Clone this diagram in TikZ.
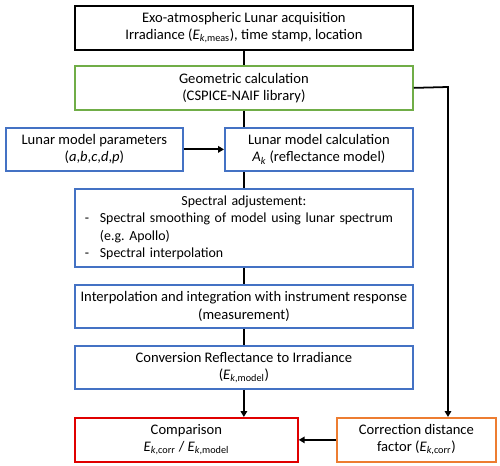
\documentclass[tikz,border=0pt]{standalone}
\usepackage{fontspec}
\setmainfont{Carlito}
\usepackage{xcolor}
\usetikzlibrary{arrows.meta, positioning, calc}

\definecolor{boxgreen}{HTML}{70AD47}
\definecolor{boxblue}{HTML}{4472C4}
\definecolor{boxred}{HTML}{E00000}
\definecolor{boxorange}{HTML}{ED7D31}

\newcommand{\Ek}[1]{\textit{E}\textsubscript{\textit{k},#1}}

\tikzset{
    box/.style={draw, line width=1.5pt, anchor=north west, inner sep=0pt, align=center,
        font=\fontsize{12.4}{14.6}\selectfont},
    link/.style={line width=1.5pt},
    arrow/.style={link, -{Triangle[length=5pt, width=5.5pt]}}
}

\begin{document}
\begin{tikzpicture}[x=0.85pt, y=-0.85pt]
    \useasboundingbox (0,0) rectangle (500,466);

    % Messung und Geometrie
    \node[box, minimum width=338*0.85pt, minimum height=44*0.85pt] (meas) at (74,5)
        {Exo-atmospheric Lunar acquisition\\Irradiance (\Ek{meas}), time stamp, location};
    \node[box, draw=boxgreen, minimum width=338*0.85pt, minimum height=44*0.85pt] (geom) at (74,65)
        {Geometric calculation\\(CSPICE-NAIF library)};

    % Mondmodell
    \node[box, draw=boxblue, minimum width=177*0.85pt, minimum height=43*0.85pt] (params) at (5,127)
        {Lunar model parameters\\(\textit{a},\textit{b},\textit{c},\textit{d},\textit{p})};
    \node[box, draw=boxblue, minimum width=188*0.85pt, minimum height=43*0.85pt] (calc) at (224,127)
        {Lunar model calculation\\\textit{A}\textsubscript{\textit{k}} (reflectance model)};

    % Spektrale Anpassung
    \node[box, draw=boxblue, minimum width=338*0.85pt, minimum height=78*0.85pt,
          text width=318*0.85pt, align=left, font=\fontsize{11.8}{14.6}\selectfont] (spec) at (74,188)
        {\parbox{\linewidth}{\centering Spectral adjustement:}\\
         \mbox{\makebox[12.75pt][l]{-}Spectral smoothing of model using lunar spectrum}\\
         \mbox{\hspace*{12.75pt}(e.g.\ Apollo)}\\
         \mbox{\makebox[12.75pt][l]{-}Spectral interpolation}};
    \node[box, draw=boxblue, minimum width=338*0.85pt, minimum height=43*0.85pt] (interp) at (74,284)
        {Interpolation and integration with instrument response\\(measurement)};
    \node[box, draw=boxblue, minimum width=338*0.85pt, minimum height=43*0.85pt] (conv) at (74,345)
        {Conversion Reflectance to Irradiance\\(\Ek{model})};

    % Vergleich
    \node[box, draw=boxred, minimum width=223*0.85pt, minimum height=44*0.85pt] (comp) at (74,417)
        {Comparison\\\Ek{corr} / \Ek{model}};
    \node[box, draw=boxorange, minimum width=159*0.85pt, minimum height=44*0.85pt] (corr) at (336,417)
        {Correction distance\\factor (\Ek{corr})};

    % Verbindungen
    \coordinate (bend) at (448,87);
    \draw[link] (meas) -- (geom);
    \draw[link] (geom.south) -- (geom.south |- calc.north);
    \draw[arrow] (params) -- (calc);
    \draw[link] (spec.north) -- (spec.north |- calc.south);
    \draw[link] (spec) -- (interp);
    \draw[link] (interp) -- (conv);
    \draw[arrow] (conv.south) -- (conv.south |- comp.north);
    \draw[arrow] (geom.east) -- (bend) -- (bend |- corr.north);
    \draw[arrow] (corr) -- (comp);
\end{tikzpicture}
\end{document}
